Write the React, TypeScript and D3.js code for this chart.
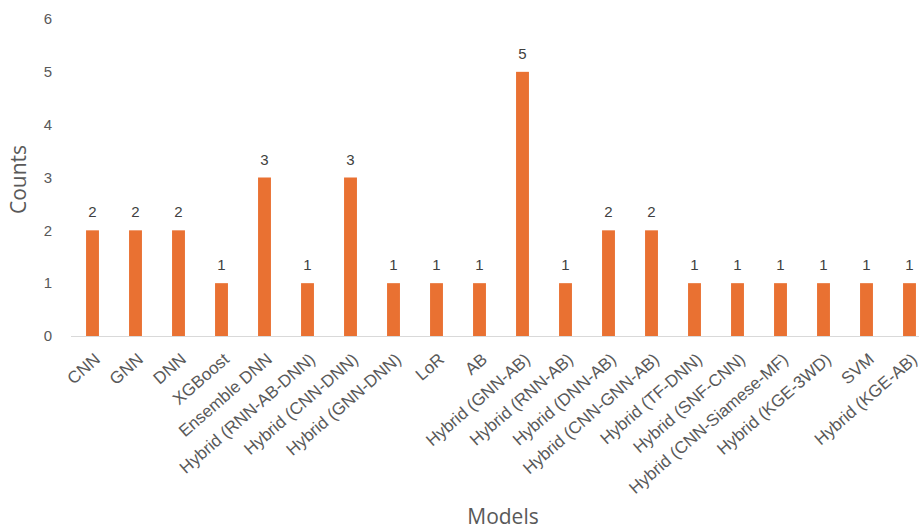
import React from "react";
import * as d3 from "d3";

const models = [
  "CNN",
  "GNN",
  "DNN",
  "XGBoost",
  "Ensemble DNN",
  "Hybrid (RNN-AB-DNN)",
  "Hybrid (CNN-DNN)",
  "Hybrid (GNN-DNN)",
  "LoR",
  "AB",
  "Hybrid (GNN-AB)",
  "Hybrid (RNN-AB)",
  "Hybrid (DNN-AB)",
  "Hybrid (CNN-GNN-AB)",
  "Hybrid (TF-DNN)",
  "Hybrid (SNF-CNN)",
  "Hybrid (CNN-Siamese-MF)",
  "Hybrid (KGE-3WD)",
  "SVM",
  "Hybrid (KGE-AB)",
];
const counts = [2, 2, 2, 1, 3, 1, 3, 1, 1, 1, 5, 1, 2, 2, 1, 1, 1, 1, 1, 1];
const yTicks = [0, 1, 2, 3, 4, 5, 6];

const W = 919;
const H = 529;
const left = 71;
const step = 43;
const top = 19;
const base = 336;

export default function App() {
  const x = d3
    .scaleBand<string>()
    .domain(models)
    .range([left, left + step * models.length])
    .paddingInner(0.7)
    .paddingOuter(0.35);
  const y = d3.scaleLinear().domain([0, 6]).range([base, top]);
  const font = "'Liberation Sans', Arial, sans-serif";

  return (
    <svg
      width={W}
      height={H}
      style={{ position: "absolute", left: 0, top: 0, background: "#fff" }}
    >
      {yTicks.map((t) => (
        <text
          key={t}
          x={52}
          y={y(t)}
          dy="0.35em"
          textAnchor="end"
          fontFamily={font}
          fontSize={15}
          fill="#595959"
        >
          {t}
        </text>
      ))}
      <line x1={left} x2={W} y1={base + 0.5} y2={base + 0.5} stroke="#d9d9d9" strokeWidth={1} />
      {models.map((m, i) => {
        const bx = x(m)!;
        const cx = bx + x.bandwidth() / 2;
        return (
          <g key={m}>
            <rect
              x={bx}
              y={y(counts[i])}
              width={x.bandwidth()}
              height={base - y(counts[i])}
              fill="#E97132"
            />
            <text
              x={cx}
              y={y(counts[i]) - 13}
              textAnchor="middle"
              fontFamily={font}
              fontSize={15}
              fill="#404040"
            >
              {counts[i]}
            </text>
            <text
              transform={`translate(${cx + 1},${base + 16}) rotate(-41)`}
              textAnchor="end"
              dy="0.7em"
              fontFamily={font}
              fontSize={17}
              fill="#595959"
            >
              {m}
            </text>
          </g>
        );
      })}
      <text
        transform={`translate(26,${(top + base) / 2 + 2}) rotate(-90)`}
        textAnchor="middle"
        fontFamily="'Open Sans', 'Noto Sans', sans-serif"
        fontSize={21}
        fill="#595959"
      >
        Counts
      </text>
      <text
        x={503}
        y={524}
        textAnchor="middle"
        fontFamily="'Open Sans', 'Noto Sans', sans-serif"
        fontSize={21}
        fill="#595959"
      >
        Models
      </text>
    </svg>
  );
}
